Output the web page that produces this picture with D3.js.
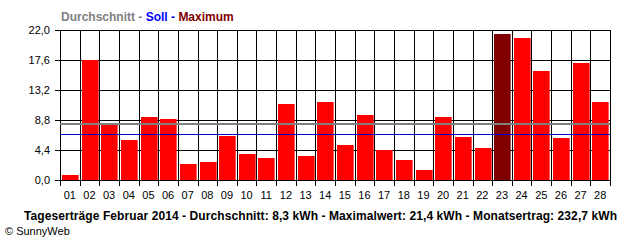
<!DOCTYPE html>
<html>
<head>
<meta charset="utf-8">
<script src="https://d3js.org/d3.v7.min.js"></script>
<style>
  body { margin: 0; background: #fff; }
  text { font-family: "Liberation Sans", Arial, sans-serif; }
</style>
</head>
<body>
<svg width=640 height=240></svg>

<script>

// Tageserträge Februar 2014 (kWh)
var days = ["01","02","03","04","05","06","07","08","09","10","11","12","13","14",
            "15","16","17","18","19","20","21","22","23","24","25","26","27","28"];
var values = [0.7, 17.6, 8.3, 5.9, 9.2, 8.9, 2.3, 2.6, 6.5, 3.8, 3.3, 11.2, 3.5, 11.4,
              5.2, 9.6, 4.4, 2.9, 1.4, 9.2, 6.3, 4.7, 21.4, 20.8, 16.0, 6.1, 17.1, 11.4];
var yTicks = [0, 4.4, 8.8, 13.2, 17.6, 22.0];
var average = 8.3;
var soll = 6.8;
var maxValue = 21.4;
var monthTotal = 232.7;

var svg = d3.select('svg');
var mLeft = 60, mRight = 610, mTop = 30, mBottom = 180;

var x = d3.scaleBand()
    .domain(days)
    .range([mLeft, mRight]);

var y = d3.scaleLinear()
    .domain([0, 22])
    .range([mBottom, mTop]);

var komma = d => d3.format('.1f')(d).replace('.', ',');

// grid (horizontal)
svg.append('g')
  .selectAll('line')
  .data(yTicks)
  .enter()
  .append('line')
    .attr('x1', mLeft - 5)
    .attr('x2', mRight)
    .attr('y1', d => Math.round(y(d)) + 0.5)
    .attr('y2', d => Math.round(y(d)) + 0.5)
    .attr('stroke', 'black');

// grid (vertical) at every day boundary, with a small tick below
var bounds = days.map(d => x(d)).concat([mRight]);
svg.append('g')
  .selectAll('line')
  .data(bounds)
  .enter()
  .append('line')
    .attr('x1', d => Math.round(d) + 0.5)
    .attr('x2', d => Math.round(d) + 0.5)
    .attr('y1', mTop)
    .attr('y2', mBottom + 6)
    .attr('stroke', 'black');

// bars
svg.append('g')
  .selectAll('rect')
  .data(values)
  .enter()
  .append('rect')
    .attr('x', (d, i) => Math.round(x(days[i])) + 2)
    .attr('width', x.bandwidth() - 3)
    .attr('y', d => Math.round(y(d)))
    .attr('height', d => mBottom - Math.round(y(d)))
    .attr('fill', d => d == maxValue ? '#800000' : '#ff0000');

// Durchschnitt + Soll lines
svg.append('line')
    .attr('x1', mLeft).attr('x2', mRight)
    .attr('y1', Math.round(y(average)) + 1).attr('y2', Math.round(y(average)) + 1)
    .attr('stroke', '#808080').attr('stroke-width', 2)
    .attr('shape-rendering', 'crispEdges');
svg.append('line')
    .attr('x1', mLeft).attr('x2', mRight)
    .attr('y1', Math.round(y(soll)) + 0.5).attr('y2', Math.round(y(soll)) + 0.5)
    .attr('stroke', '#0000cc')
    .attr('shape-rendering', 'crispEdges');

// y labels
var yAxis = d3.axisLeft(y)
    .tickValues(yTicks)
    .tickFormat(komma)
    .tickSize(0)
    .tickPadding(10);
svg.append('g')
    .attr('transform', 'translate(' + mLeft + ',0)')
    .call(yAxis)
    .call(g => g.select('.domain').remove())
    .selectAll('text')
      .attr('font-size', 11)
      .attr('font-family', '"Liberation Sans", Arial, sans-serif')
      .attr('fill', 'black');

// x labels
var xAxis = d3.axisBottom(x).tickSize(0).tickPadding(11);
svg.append('g')
    .attr('transform', 'translate(0,' + mBottom + ')')
    .call(xAxis)
    .call(g => g.select('.domain').remove())
    .selectAll('text')
      .attr('font-size', 11)
      .attr('font-family', '"Liberation Sans", Arial, sans-serif')
      .attr('fill', 'black');

// legend / title on top
var legend = svg.append('text')
    .attr('x', 61).attr('y', 21)
    .attr('font-size', 12).attr('font-weight', 'bold');
legend.append('tspan').attr('fill', '#808080').text('Durchschnitt');
legend.append('tspan').attr('fill', '#808080').text(' - ');
legend.append('tspan').attr('fill', '#0000ff').text('Soll');
legend.append('tspan').attr('fill', '#0000ff').text(' - ');
legend.append('tspan').attr('fill', '#800000').text('Maximum');

// bottom caption
svg.append('text')
    .attr('x', 24).attr('y', 220)
    .attr('font-size', 12).attr('font-weight', 'bold')
    .attr('textLength', 593)
    .text('Tageserträge Februar 2014 - Durchschnitt: ' + komma(average) +
          ' kWh - Maximalwert: ' + komma(maxValue) + ' kWh - Monatsertrag: ' +
          komma(monthTotal) + ' kWh');

svg.append('text')
    .attr('x', 5).attr('y', 235)
    .attr('font-size', 11)
    .text('© SunnyWeb');

</script>
</body>
</html>
